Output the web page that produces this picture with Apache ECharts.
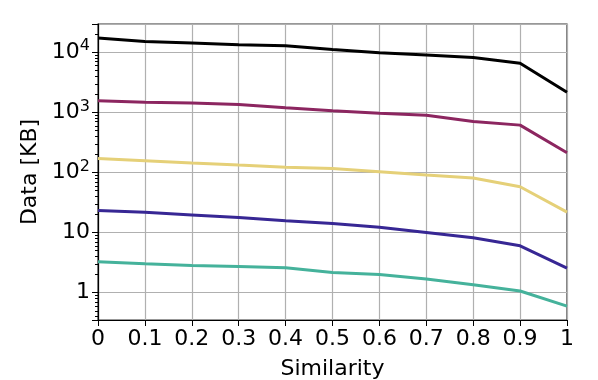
<!DOCTYPE html>
<html>
<head>
<meta charset="utf-8">
<script src="https://cdn.jsdelivr.net/npm/echarts@6/dist/echarts.min.js"></script>
<style>
  html, body { margin: 0; padding: 0; background: #fff; }
  #chart { width: 598px; height: 380px; }
</style>
</head>
<body>
<div id="chart"></div>
<script>
// similarity vs data size (log scale)
const similarity = [0, 0.1, 0.2, 0.3, 0.4, 0.5, 0.6, 0.7, 0.8, 0.9, 1];

const sBlack  = [17300, 15200, 14300, 13400, 12900, 11100, 9800, 9060, 8170, 6560, 2170];
const sMaroon = [1560, 1480, 1430, 1355, 1195, 1065, 972, 900, 707, 615, 214];
const sYellow = [171, 157, 144, 133, 123, 117, 103.5, 91, 81, 58, 22];
const sBlue   = [23.3, 21.8, 19.7, 17.8, 15.7, 14.2, 12.3, 10.05, 8.2, 6.03, 2.57];
const sTeal   = [3.27, 3.03, 2.85, 2.74, 2.6, 2.18, 2.02, 1.69, 1.36, 1.07, 0.6];

const xTicks = ['0', '0.1', '0.2', '0.3', '0.4', '0.5', '0.6', '0.7', '0.8', '0.9', '1'];

const chartDom = document.getElementById('chart');
let chart = echarts.init(chartDom);

const FONT = 'DejaVu Sans';

function pairs(vals) {
    return similarity.map(function (x, i) { return [x, vals[i]]; });
}

function line(name, vals, color) {
    return {
        name: name,
        type: 'line',
        data: pairs(vals),
        showSymbol: false,
        lineStyle: { color: color, width: 3 },
        itemStyle: { color: color },
        animation: false
    };
}

let option = {
    animation: false,
    grid: {
        left: 98,
        right: 31,
        top: 24,
        bottom: 60,
        outerBoundsMode: 'none',
        show: true,
        borderColor: '#333',
        borderWidth: 1.2
    },
    xAxis: {
        type: 'value',
        min: 0,
        max: 1,
        interval: 0.1,
        name: 'Similarity',
        nameLocation: 'middle',
        nameGap: 38,
        nameTextStyle: { fontFamily: FONT, fontSize: 22, color: '#000' },
        axisLine: { show: true, onZero: false, lineStyle: { color: '#000', width: 1.2 } },
        axisTick: { show: true, inside: false, length: 6, lineStyle: { color: '#000' } },
        axisLabel: {
            fontFamily: FONT, fontSize: 22, color: '#000', margin: 8,
            formatter: function (v) {
                const i = Math.round(v * 10);
                return xTicks[i] !== undefined ? xTicks[i] : '';
            }
        },
        splitLine: { show: true, lineStyle: { color: '#b0b0b0', width: 1.2 } }
    },
    yAxis: {
        type: 'log',
        logBase: 10,
        min: 0.352,
        max: 29600,
        name: 'Data [KB]',
        nameLocation: 'middle',
        nameGap: 54,
        nameTextStyle: { fontFamily: FONT, fontSize: 22, color: '#000' },
        axisLine: { show: true, lineStyle: { color: '#000', width: 1.2 } },
        axisTick: { show: true, inside: false, length: 6, lineStyle: { color: '#000' } },
        minorTick: { show: true, splitNumber: 9, length: 3, lineStyle: { color: '#000' } },
        axisLabel: {
            fontFamily: FONT, fontSize: 22, color: '#000', margin: 8,
            formatter: function (v) {
                const e = Math.round(Math.log10(v));
                if (Math.abs(Math.log10(v) - e) > 1e-6) return '';
                if (e === 0) return '1';
                if (e === 1) return '10';
                return '{b|10}{s|' + e + '}';
            },
            rich: {
                b: { fontFamily: FONT, fontSize: 22, color: '#000' },
                s: { fontFamily: FONT, fontSize: 16, color: '#000', verticalAlign: 'bottom', padding: [0, 0, 12, 0] }
            }
        },
        splitLine: { show: true, lineStyle: { color: '#b0b0b0', width: 1.2 } }
    },
    series: [
        line('s1', sBlack, '#000000'),
        line('s2', sMaroon, '#8c2660'),
        line('s3', sYellow, '#e5d078'),
        line('s4', sBlue, '#372794'),
        line('s5', sTeal, '#45b29b')
    ]
};

option && chart.setOption(option);
</script>
</body>
</html>
